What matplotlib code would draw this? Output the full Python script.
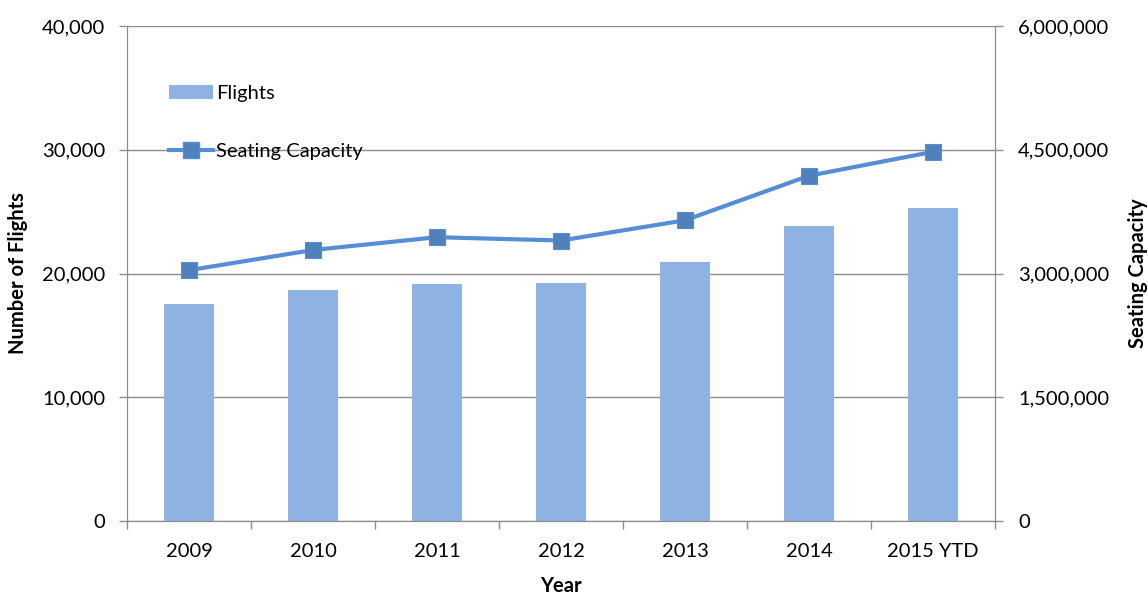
import matplotlib

matplotlib.use("Agg")
import matplotlib.pyplot as plt
from matplotlib.lines import Line2D
from matplotlib.patches import Patch
from matplotlib.ticker import FuncFormatter, MultipleLocator
import numpy as np

years = ["2009", "2010", "2011", "2012", "2013", "2014", "2015 YTD"]
flights = [17500, 18700, 19150, 19250, 20900, 23850, 25300]
seating_capacity = [3040000, 3285000, 3440000, 3400000, 3645000, 4185000, 4475000]

BAR_COLOR = "#8EB3E2"
LINE_COLOR = "#558ED5"
MARKER_COLOR = "#4F81BD"
GRID_COLOR = "#8C8C8C"
FS = 14.5

plt.rcParams["font.family"] = ["Lato", "DejaVu Sans"]


def main() -> None:
    fig = plt.figure(figsize=(11.48, 5.94), dpi=100)
    ax = fig.add_axes([0.1106, 0.1229, 0.7561, 0.8333])
    x = np.arange(len(years))

    ax.bar(x, flights, width=0.4, color=BAR_COLOR, zorder=2)
    ax.set_xlim(-0.5, len(years) - 0.5)
    ax.set_ylim(0, 40000)
    ax.yaxis.set_major_locator(MultipleLocator(10000))
    ax.yaxis.set_major_formatter(FuncFormatter(lambda v, _: f"{v:,.0f}"))
    ax.grid(axis="y", color=GRID_COLOR, linewidth=1.0, zorder=0)
    ax.set_axisbelow(True)

    ax.set_xticks(x)
    ax.set_xticklabels(years)
    ax.set_xticks(np.arange(-0.5, len(years)), minor=True)
    ax.tick_params(axis="x", which="major", length=0, pad=16, labelsize=FS)
    ax.tick_params(axis="x", which="minor", length=6, color=GRID_COLOR, width=1)
    ax.tick_params(axis="y", length=6, color=GRID_COLOR, width=1, labelsize=FS, pad=9.5)

    ax.spines["top"].set_visible(False)
    for side in ("left", "bottom", "right"):
        ax.spines[side].set_color(GRID_COLOR)

    ax.set_xlabel("Year", fontsize=FS, fontweight="bold", va="center")
    ax.xaxis.set_label_coords(0.5, (521 - 586) / 495)
    ax.set_ylabel("Number of Flights", fontsize=FS, fontweight="bold", va="center")
    ax.yaxis.set_label_coords((18 - 127) / 868, 0.5)

    ax2 = ax.twinx()
    ax2.plot(
        x,
        seating_capacity,
        color=LINE_COLOR,
        linewidth=3,
        marker="s",
        markersize=12,
        markerfacecolor=MARKER_COLOR,
        markeredgecolor=LINE_COLOR,
        markeredgewidth=0.8,
        zorder=3,
    )
    ax2.set_ylim(0, 6000000)
    ax2.yaxis.set_major_locator(MultipleLocator(1500000))
    ax2.yaxis.set_major_formatter(FuncFormatter(lambda v, _: f"{v:,.0f}"))
    ax2.tick_params(axis="y", length=6, color=GRID_COLOR, width=1, labelsize=FS, pad=10.5)
    ax2.spines["top"].set_visible(False)
    for side in ("left", "bottom", "right"):
        ax2.spines[side].set_color(GRID_COLOR)
    ax2.set_ylabel("Seating Capacity", fontsize=FS, fontweight="bold", va="center", rotation=90)
    ax2.yaxis.set_label_coords((1138 - 127) / 868, 0.5)

    handles = [
        Patch(facecolor=BAR_COLOR, edgecolor="none"),
        Line2D(
            [0], [0],
            color=LINE_COLOR,
            linewidth=3,
            marker="s",
            markersize=12,
            markerfacecolor=MARKER_COLOR,
            markeredgecolor=LINE_COLOR,
        ),
    ]
    ax2.legend(
        handles,
        ["Flights", "Seating Capacity"],
        loc="upper left",
        bbox_to_anchor=(0.028, 0.918),
        frameon=False,
        fontsize=FS,
        handlelength=2.15,
        handletextpad=0.15,
        labelspacing=2.05,
    )

    fig.savefig("out.png", dpi=100)
    plt.close(fig)


if __name__ == "__main__":
    main()
